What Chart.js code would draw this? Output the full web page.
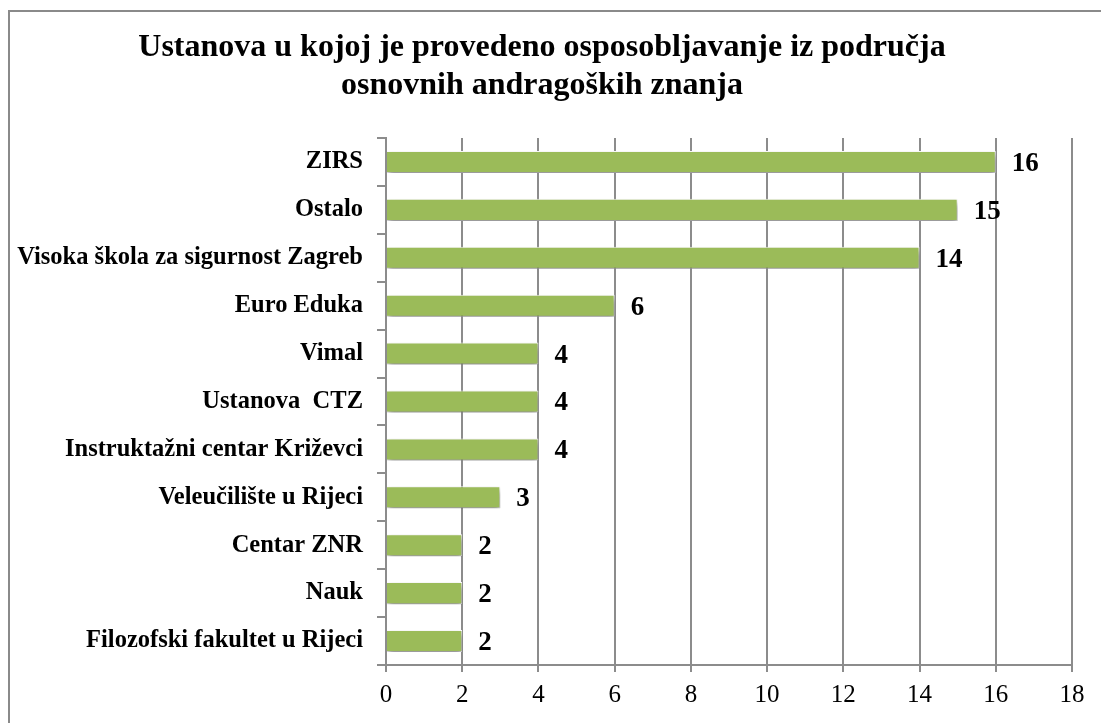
<!DOCTYPE html>
<html>
<head>
<meta charset="utf-8">
<script src="https://cdn.jsdelivr.net/npm/chart.js@4"></script>
<style>
    html, body { margin: 0; padding: 0; background: #fff; overflow: hidden; }
    #wrap { position: absolute; left: 0; top: 0; width: 1101px; height: 723px; }
    #frame { position: absolute; left: 8px; top: 10px; width: 1200px; height: 800px;
             border-left: 2px solid #8a8a8a; border-top: 2px solid #8a8a8a; }
</style>
</head>
<body>
<div id="frame"></div>
<div id="wrap"><canvas id="chart" width="1101" height="723"></canvas></div>
<script>
const titleLines = ["Ustanova u kojoj je provedeno osposobljavanje iz područja", "osnovnih andragoških znanja"];
const categories = [
    "ZIRS",
    "Ostalo",
    "Visoka škola za sigurnost Zagreb",
    "Euro Eduka",
    "Vimal",
    "Ustanova  CTZ",
    "Instruktažni centar Križevci",
    "Veleučilište u Rijeci",
    "Centar ZNR",
    "Nauk",
    "Filozofski fakultet u Rijeci"
];
const counts = [16, 15, 14, 6, 4, 4, 4, 3, 2, 2, 2];
const xMin = 0, xMax = 18, xStep = 2;

const serif = "'Liberation Serif', 'Times New Roman', serif";
const gridGray = "#8c8c8c";

// soft shadow under the bars, like the office chart
const barShadow = {
    id: "barShadow",
    beforeDatasetsDraw(chart) {
        const ctx = chart.ctx;
        ctx.save();
        ctx.shadowColor = "rgba(0,0,0,0.45)";
        ctx.shadowBlur = 6;
        ctx.shadowOffsetX = 1;
        ctx.shadowOffsetY = 4;
    },
    afterDatasetsDraw(chart) {
        chart.ctx.restore();
    }
};

const valueLabels = {
    id: "valueLabels",
    afterDatasetsDraw(chart) {
        const ctx = chart.ctx;
        const meta = chart.getDatasetMeta(0);
        ctx.save();
        ctx.font = "bold 27px " + serif;
        ctx.fillStyle = "#000";
        ctx.textAlign = "left";
        ctx.textBaseline = "middle";
        meta.data.forEach((bar, i) => {
            ctx.fillText(String(counts[i]), bar.x + 16, bar.y + 2);
        });
        ctx.restore();
    }
};

new Chart(document.getElementById("chart").getContext("2d"), {
    type: "bar",
    data: {
        labels: categories,
        datasets: [{
            data: counts,
            backgroundColor: "#9bbb59",
            borderColor: "#ffffff",
            borderWidth: 1,
            borderSkipped: "left",
            barPercentage: 0.46,
            categoryPercentage: 1.0
        }]
    },
    options: {
        indexAxis: "y",
        responsive: false,
        animation: false,
        layout: { padding: { left: 12, right: 29, top: 0, bottom: 0 } },
        plugins: {
            legend: { display: false },
            tooltip: { enabled: false },
            title: {
                display: true,
                text: titleLines,
                color: "#000",
                font: { family: serif, size: 32, weight: "bold", lineHeight: 38 / 32 },
                padding: { top: 29, bottom: 33 }
            }
        },
        scales: {
            x: {
                min: xMin,
                max: xMax,
                ticks: {
                    stepSize: xStep,
                    color: "#000",
                    padding: 8,
                    font: { family: serif, size: 25 }
                },
                grid: { color: gridGray, lineWidth: 2, tickLength: 7 },
                border: { color: gridGray, width: 2 },
                afterFit(s) { s.height = 58; }
            },
            y: {
                ticks: {
                    color: "#000",
                    padding: 14,
                    font: { family: serif, size: 24.5, weight: "bold" }
                },
                grid: { drawOnChartArea: false, color: gridGray, lineWidth: 2, tickLength: 9 },
                border: { color: gridGray, width: 2 },
                afterFit(s) { s.width = 374; }
            }
        }
    },
    plugins: [barShadow, valueLabels]
});
</script>
</body>
</html>
